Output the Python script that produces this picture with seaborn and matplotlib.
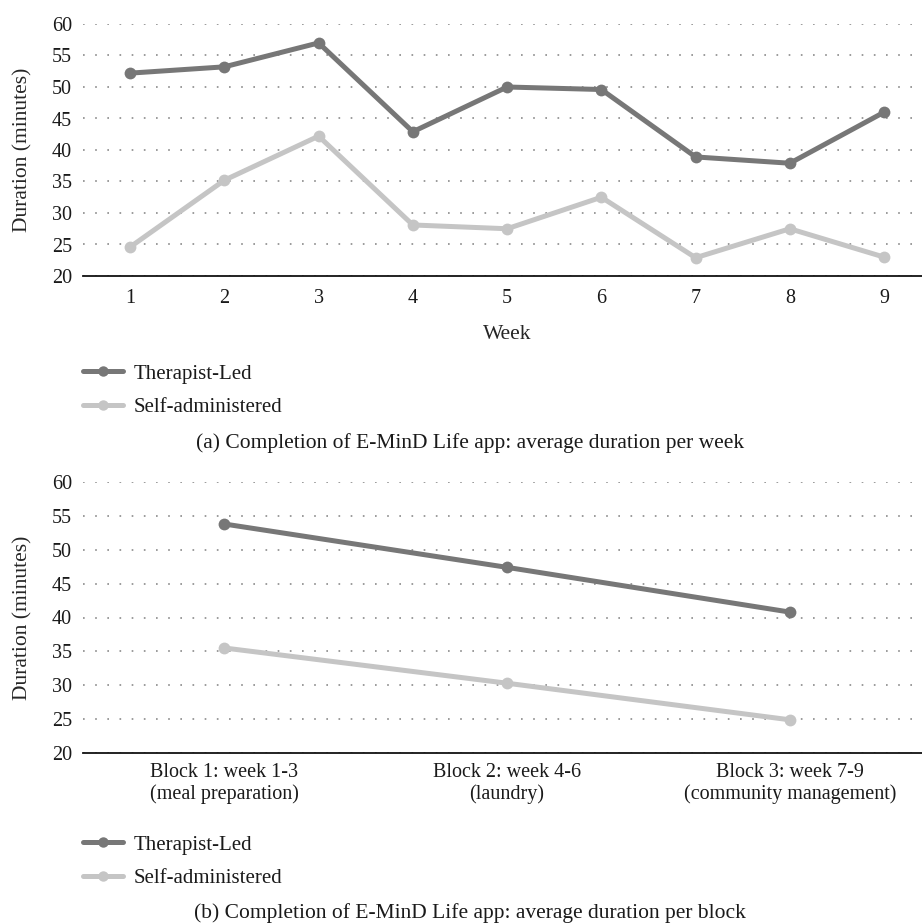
import pandas as pd
import seaborn as sns
import matplotlib.pyplot as plt
from matplotlib.lines import Line2D

# --- data ---
weeks = [1, 2, 3, 4, 5, 6, 7, 8, 9]
therapist_week = [52.2, 53.2, 57.0, 42.9, 50.0, 49.6, 38.9, 37.9, 46.0]
self_week = [24.6, 35.2, 42.2, 28.1, 27.5, 32.5, 22.9, 27.5, 23.0]

blocks = ['Block 1: week 1-3\n(meal preparation)',
          'Block 2: week 4-6\n(laundry)',
          'Block 3: week 7-9\n(community management)']
therapist_block = [53.8, 47.4, 40.8]
self_block = [35.5, 30.3, 24.9]

groups = ['Therapist-Led', 'Self-administered']
colors = {'Therapist-Led': '#777777', 'Self-administered': '#c5c5c5'}
y_ticks = [20, 25, 30, 35, 40, 45, 50, 55, 60]

captions = ['(a) Completion of E-MinD Life app: average duration per week',
            '(b) Completion of E-MinD Life app: average duration per block']

# long-form tables
weekly = pd.DataFrame({
    'x': weeks * 2,
    'Duration': therapist_week + self_week,
    'Group': [groups[0]] * len(weeks) + [groups[1]] * len(weeks),
})
block_pos = list(range(len(blocks)))
blockly = pd.DataFrame({
    'x': block_pos * 2,
    'Duration': therapist_block + self_block,
    'Group': [groups[0]] * len(blocks) + [groups[1]] * len(blocks),
})

sns.set_style('white')
plt.rcParams['font.family'] = ['Liberation Serif', 'DejaVu Serif']
plt.rcParams['font.size'] = 14.5
plt.rcParams['text.color'] = '#1a1a1a'

fig = plt.figure(figsize=(9.22, 9.23), dpi=100)
ax1 = fig.add_axes([0.090, 1 - 276 / 923, 0.920, 252 / 923])
ax2 = fig.add_axes([0.090, 1 - 753 / 923, 0.920, 271 / 923])


def style_axis(ax):
    ax.set_ylim(20, 60)
    ax.set_yticks(y_ticks)
    ax.yaxis.grid(True, linestyle=(0, (1, 6.3)), color='#8a8a8a', linewidth=1.2)
    ax.xaxis.grid(False)
    for side in ('left', 'right', 'top'):
        ax.spines[side].set_visible(False)
    ax.spines['bottom'].set_color('#111111')
    ax.spines['bottom'].set_linewidth(1.3)
    ax.tick_params(axis='both', length=0, labelsize=14.5, colors='#1a1a1a')
    ax.tick_params(axis='y', pad=8)
    ax.set_ylabel('Duration (minutes)', fontsize=15.5, labelpad=14)


for ax, df in ((ax1, weekly), (ax2, blockly)):
    sns.lineplot(data=df, x='x', y='Duration', hue='Group', hue_order=groups,
                 palette=colors, marker='o', markersize=8.5, markeredgewidth=0,
                 linewidth=3.6, legend=False, ax=ax, clip_on=False)
    style_axis(ax)

ax1.set_xlim(0.5, 9.5)
ax1.set_xticks(weeks)
ax1.tick_params(axis='x', pad=9.5)
ax1.set_xlabel('Week', fontsize=15.5, labelpad=12)

ax2.set_xlim(-0.5, 2.5)
ax2.set_xticks(block_pos)
ax2.set_xticklabels(blocks, linespacing=1.18)
ax2.tick_params(axis='x', pad=7)
ax2.set_xlabel('')

handles = [Line2D([], [], color=colors[g], marker='o', markersize=7.5,
                  markeredgewidth=0, linewidth=3.6) for g in groups]
for top in (1 - 364 / 923, 1 - 835 / 923):
    fig.legend(handles, groups, loc='upper left', bbox_to_anchor=(0.09, top),
               frameon=False, fontsize=15, handlelength=1.92, handletextpad=0.53,
               borderpad=0, borderaxespad=0, labelspacing=0.68)

fig.text(0.51, 1 - 443 / 923, captions[0], ha='center', va='center', fontsize=15.5)
fig.text(0.51, 1 - 913 / 923, captions[1], ha='center', va='center', fontsize=15.5)

fig.savefig('out.png', dpi=100)
